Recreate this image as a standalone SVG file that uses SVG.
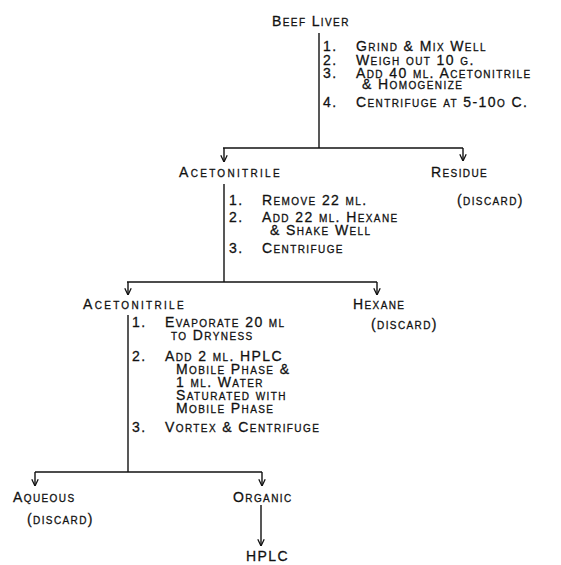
<svg xmlns="http://www.w3.org/2000/svg" width="561" height="565" viewBox="0 0 561 565">
<style>
text{font-family:"Liberation Sans",Arial,sans-serif;font-size:14px;font-variant:small-caps;letter-spacing:1.4px;fill:#111;stroke:#111;stroke-width:0.28px}
text.w{letter-spacing:2.3px}
.ln{stroke:#111;stroke-width:1.4;fill:none}
</style>
<defs>
<marker id="ah" markerUnits="userSpaceOnUse" viewBox="0 0 10 10" refX="9.5" refY="5" markerWidth="8" markerHeight="8" orient="auto">
<path d="M1,1 L9.5,5 L1,9" fill="none" stroke="#111" stroke-width="1.6"/>
</marker>
</defs>
<rect width="561" height="565" fill="#fff"/>
<g id="connectors" class="ln">
<path d="M319,33 V148"/>
<path d="M223,148 H463"/>
<path d="M224,148 V162" marker-end="url(#ah)"/>
<path d="M463,148 V161" marker-end="url(#ah)"/>
<path d="M224,184 V282"/>
<path d="M127,282 H377"/>
<path d="M128,282 V295" marker-end="url(#ah)"/>
<path d="M377,282 V295" marker-end="url(#ah)"/>
<path d="M128,315 V472"/>
<path d="M35,472 H262"/>
<path d="M35,472 V486" marker-end="url(#ah)"/>
<path d="M262,472 V486" marker-end="url(#ah)"/>
<path d="M261,505 V546" marker-end="url(#ah)"/>
</g>
<g id="beef-liver"><text x="272" y="26">Beef Liver</text></g>
<g id="steps-1">
<text x="323" y="51">1.</text><text x="356" y="51">Grind &amp; Mix Well</text>
<text x="323" y="65">2.</text><text x="356" y="65">Weigh out 10 g.</text>
<text x="323" y="78">3.</text><text x="356" y="78">Add 40 ml. Acetonitrile</text>
<text x="362" y="89">&amp; Homogenize</text>
<text x="323" y="107">4.</text><text x="356" y="107">Centrifuge at 5-10o C.</text>
</g>
<g id="acetonitrile-1"><text class="w" x="179" y="177">Acetonitrile</text></g>
<g id="residue"><text x="431" y="177">Residue</text><text x="457" y="205">(discard)</text></g>
<g id="steps-2">
<text x="229" y="205">1.</text><text x="262" y="205">Remove 22 ml.</text>
<text x="229" y="222">2.</text><text x="262" y="222">Add 22 ml. Hexane</text>
<text x="270" y="235">&amp; Shake Well</text>
<text x="229" y="253">3.</text><text x="262" y="253">Centrifuge</text>
</g>
<g id="acetonitrile-2"><text class="w" x="83" y="309">Acetonitrile</text></g>
<g id="hexane"><text x="353" y="309">Hexane</text><text x="371" y="329">(discard)</text></g>
<g id="steps-3">
<text x="132" y="327">1.</text><text x="165" y="327">Evaporate 20 ml</text>
<text x="171" y="340">to Dryness</text>
<text x="132" y="361">2.</text><text x="165" y="361">Add 2 ml. HPLC</text>
<text x="176" y="374">Mobile Phase &amp;</text>
<text x="176" y="387">1 ml. Water</text>
<text x="176" y="400">Saturated with</text>
<text x="176" y="413">Mobile Phase</text>
<text x="132" y="432">3.</text><text x="165" y="432">Vortex &amp; Centrifuge</text>
</g>
<g id="aqueous"><text x="13" y="502">Aqueous</text><text x="27" y="524">(discard)</text></g>
<g id="organic"><text x="233" y="502">Organic</text></g>
<g id="hplc"><text x="246" y="561">HPLC</text></g>
</svg>
